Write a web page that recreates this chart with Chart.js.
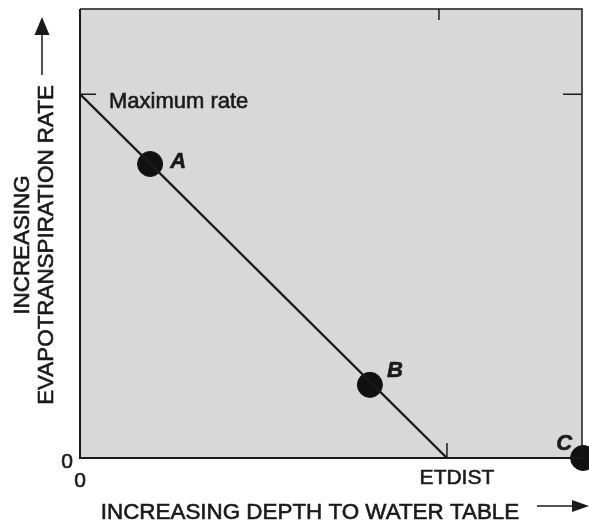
<!DOCTYPE html>
<html>
<head>
<meta charset="utf-8">
<script src="https://cdn.jsdelivr.net/npm/chart.js@4"></script>
<style>
  html, body { margin: 0; padding: 0; background: #fff; }
  #wrap { width: 589px; height: 525px; }
</style>
</head>
<body>
<div id="wrap"><canvas id="myChart" width="589" height="525"></canvas></div>
<script>
// x is depth in ETDIST units, y is rate as a fraction of the maximum rate
const pointLabels = ["A", "B", "C"];
const pointDepth = [0.191, 0.790, 1.371];
const pointRate = [0.808, 0.201, 0];
const lineDepth = [0, 1];
const lineRate = [1, 0];
const xTickValues = [0, 1];
const xTickLabels = ["0", "ETDIST"];
const yTickValues = [0];
const yTickLabels = ["0"];
const maxRateLabel = "Maximum rate";
const xTitle = "INCREASING DEPTH TO WATER TABLE";
const yTitle = ["INCREASING", "EVAPOTRANSPIRATION RATE"];

const FONT = "'Liberation Sans', Arial, Helvetica, sans-serif";

// scanned text looks a bit heavier than plain canvas text
function inkText(ctx, s, x, y) {
  ctx.fillText(s, x, y);
  ctx.strokeText(s, x, y);
}

const figurePlugin = {
  id: "figure",
  beforeDatasetsDraw(chart) {
    const ctx = chart.ctx;
    const a = chart.chartArea;
    ctx.save();
    ctx.fillStyle = "#d8d8d8";
    ctx.fillRect(a.left, a.top, a.right - a.left, a.bottom - a.top);
    ctx.restore();
  },
  afterDatasetsDraw(chart) {
    const ctx = chart.ctx;
    const a = chart.chartArea;
    const xs = chart.scales.x;
    const ys = chart.scales.y;
    ctx.save();
    ctx.strokeStyle = "#1a1a1a";
    ctx.fillStyle = "#1a1a1a";

    // frame
    ctx.lineWidth = 2;
    ctx.beginPath();
    ctx.moveTo(a.left, a.top);
    ctx.lineTo(a.left, a.bottom);
    ctx.lineTo(a.right, a.bottom);
    ctx.stroke();
    ctx.lineWidth = 1.5;
    ctx.beginPath();
    ctx.moveTo(a.left, a.top);
    ctx.lineTo(a.right, a.top);
    ctx.lineTo(a.right, a.bottom);
    ctx.stroke();

    // small tick marks
    const yMax = ys.getPixelForValue(1);
    const xEt = xs.getPixelForValue(1);
    ctx.lineWidth = 1.5;
    ctx.beginPath();
    ctx.moveTo(a.left, yMax); ctx.lineTo(a.left + 16, yMax);
    ctx.moveTo(a.right - 19, yMax); ctx.lineTo(a.right, yMax);
    ctx.moveTo(xEt, a.bottom); ctx.lineTo(xEt, a.bottom - 15);
    ctx.moveTo(xEt - 8, a.top); ctx.lineTo(xEt - 8, a.top + 11);
    ctx.stroke();

    ctx.lineWidth = 0.6;

    // tick labels
    ctx.font = "21px " + FONT;
    ctx.textBaseline = "middle";
    ctx.textAlign = "center";
    xTickValues.forEach(function(v, i) {
      const px = xs.getPixelForValue(v);
      const dx = i === 0 ? 0 : 10;
      const dy = i === 0 ? 23 : 20;
      inkText(ctx, xTickLabels[i], px + dx, a.bottom + dy);
    });
    ctx.textAlign = "right";
    yTickValues.forEach(function(v, i) {
      inkText(ctx, yTickLabels[i], a.left - 7, ys.getPixelForValue(v) + 4);
    });

    // maximum rate label
    ctx.font = "22px " + FONT;
    ctx.textAlign = "left";
    ctx.textBaseline = "alphabetic";
    inkText(ctx, maxRateLabel, a.left + 29, yMax + 14);

    // point labels
    ctx.font = "italic bold 22px " + FONT;
    ctx.textAlign = "center";
    ctx.textBaseline = "middle";
    const offs = [[28, -2], [25, -14], [-19, -14]];
    pointLabels.forEach(function(lab, i) {
      const px = xs.getPixelForValue(pointDepth[i]);
      const py = ys.getPixelForValue(pointRate[i]);
      inkText(ctx, lab, px + offs[i][0], py + offs[i][1]);
    });

    // x title and arrow
    ctx.font = "22.4px " + FONT;
    ctx.textBaseline = "alphabetic";
    inkText(ctx, xTitle, 310, 519);
    ctx.lineWidth = 1.5;
    ctx.beginPath();
    ctx.moveTo(537, 506); ctx.lineTo(575, 506);
    ctx.stroke();
    ctx.beginPath();
    ctx.moveTo(589, 506); ctx.lineTo(572, 500); ctx.lineTo(572, 512);
    ctx.closePath();
    ctx.fill();

    // y title and arrow
    ctx.lineWidth = 0.6;
    ctx.save();
    ctx.translate(0, 245);
    ctx.rotate(-Math.PI / 2);
    ctx.textBaseline = "middle";
    inkText(ctx, yTitle[0], 0, 23);
    inkText(ctx, yTitle[1], 0, 47);
    ctx.restore();
    ctx.lineWidth = 1.5;
    ctx.beginPath();
    ctx.moveTo(42, 75); ctx.lineTo(42, 32);
    ctx.stroke();
    ctx.beginPath();
    ctx.moveTo(42, 17); ctx.lineTo(34.5, 35); ctx.lineTo(49.5, 35);
    ctx.closePath();
    ctx.fill();
    ctx.restore();
  }
};

const ctx = document.getElementById("myChart").getContext("2d");
const chart = new Chart(ctx, {
  type: "scatter",
  data: {
    datasets: [{
      type: "line",
      data: lineDepth.map(function(x, i) { return { x: x, y: lineRate[i] }; }),
      borderColor: "#1a1a1a",
      borderWidth: 2.3,
      pointRadius: 0,
      fill: false
    }, {
      data: pointDepth.map(function(x, i) { return { x: x, y: pointRate[i] }; }),
      backgroundColor: "#111",
      borderColor: "#111",
      pointRadius: 12.5,
      pointHoverRadius: 12.5,
      clip: false
    }]
  },
  options: {
    responsive: false,
    animation: false,
    layout: { autoPadding: false, padding: { left: 80, top: 9, right: 7, bottom: 67 } },
    plugins: { legend: { display: false }, tooltip: { enabled: false } },
    scales: {
      x: { type: "linear", display: false, min: 0, max: 1.368 },
      y: { type: "linear", display: false, min: 0, max: 1.234 }
    }
  },
  plugins: [figurePlugin]
});
</script>
</body>
</html>
